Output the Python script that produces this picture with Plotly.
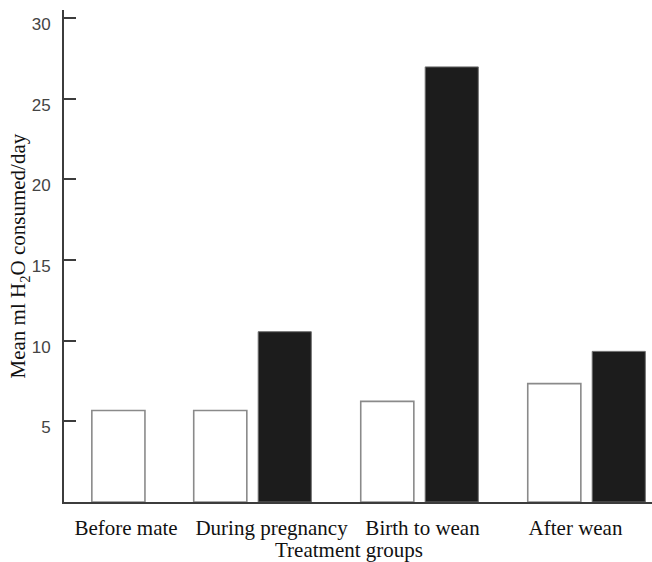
import plotly.graph_objects as go

# ---- data ----
groups = ["Before mate", "During pregnancy", "Birth to wean", "After wean"]
control_ml = [5.67, 5.67, 6.24, 7.34]      # open bars
treated_ml = [None, 10.56, 26.98, 9.34]    # filled bars
y_ticks = [5, 10, 15, 20, 25, 30]

# ---- layout positions (numeric x axis, 1 unit = one group) ----
group_center = [0.39, 1.0, 2.0, 3.0]
half_gap = 0.193
bar_w = 0.318
label_pos = [0.243, 1.114, 2.018, 2.934]

x_white = [c - half_gap for c in group_center]
x_black = [c + half_gap for c in group_center]

serif = "Liberation Serif, Times New Roman, serif"
sans = "Liberation Sans, Arial, sans-serif"
axis_col = "#3c3c3c"

fig = go.Figure()
fig.add_trace(go.Bar(
    x=x_white, y=control_ml, width=bar_w,
    marker=dict(color="white", line=dict(color="#8a8a8a", width=1.6)),
    showlegend=False, hoverinfo="y"))
fig.add_trace(go.Bar(
    x=x_black, y=treated_ml, width=bar_w,
    marker=dict(color="#1c1c1c", line=dict(color="#6e6e6e", width=1)),
    showlegend=False, hoverinfo="y"))

fig.update_layout(
    width=652, height=562,
    margin=dict(l=64, r=0, t=10, b=60, autoexpand=False),
    paper_bgcolor="white", plot_bgcolor="white",
    barmode="overlay",
    xaxis=dict(
        range=[-0.1287, 3.392], showgrid=False, zeroline=False,
        showline=True, linecolor=axis_col, linewidth=2,
        tickmode="array", tickvals=label_pos, ticktext=groups,
        ticks="", ticklabelstandoff=6,
        tickfont=dict(family=serif, size=21, color="#111111"),
    ),
    yaxis=dict(
        range=[0, 30.51], showgrid=False, zeroline=False,
        showline=True, linecolor=axis_col, linewidth=2,
        tickmode="array", tickvals=y_ticks,
        ticks="inside", ticklen=12, tickwidth=2, tickcolor=axis_col,
        ticklabelstandoff=8, ticklabelshift=6,
        tickfont=dict(family=sans, size=17, color="#444444"),
    ),
    annotations=[
        dict(text="Treatment groups", xref="paper", yref="paper",
             x=0.485, y=-0.127, xanchor="center", yanchor="bottom",
             showarrow=False, font=dict(family=serif, size=21, color="#111111")),
        dict(text="Mean ml H<sub>2</sub>O consumed/day", xref="paper", yref="paper",
             x=-0.0757, y=0.5, xanchor="center", yanchor="middle", textangle=-90,
             showarrow=False, font=dict(family=serif, size=21, color="#111111")),
    ],
)

fig.write_html("out.html", config={"displayModeBar": False},
               post_script="document.body.style.margin='0';")
